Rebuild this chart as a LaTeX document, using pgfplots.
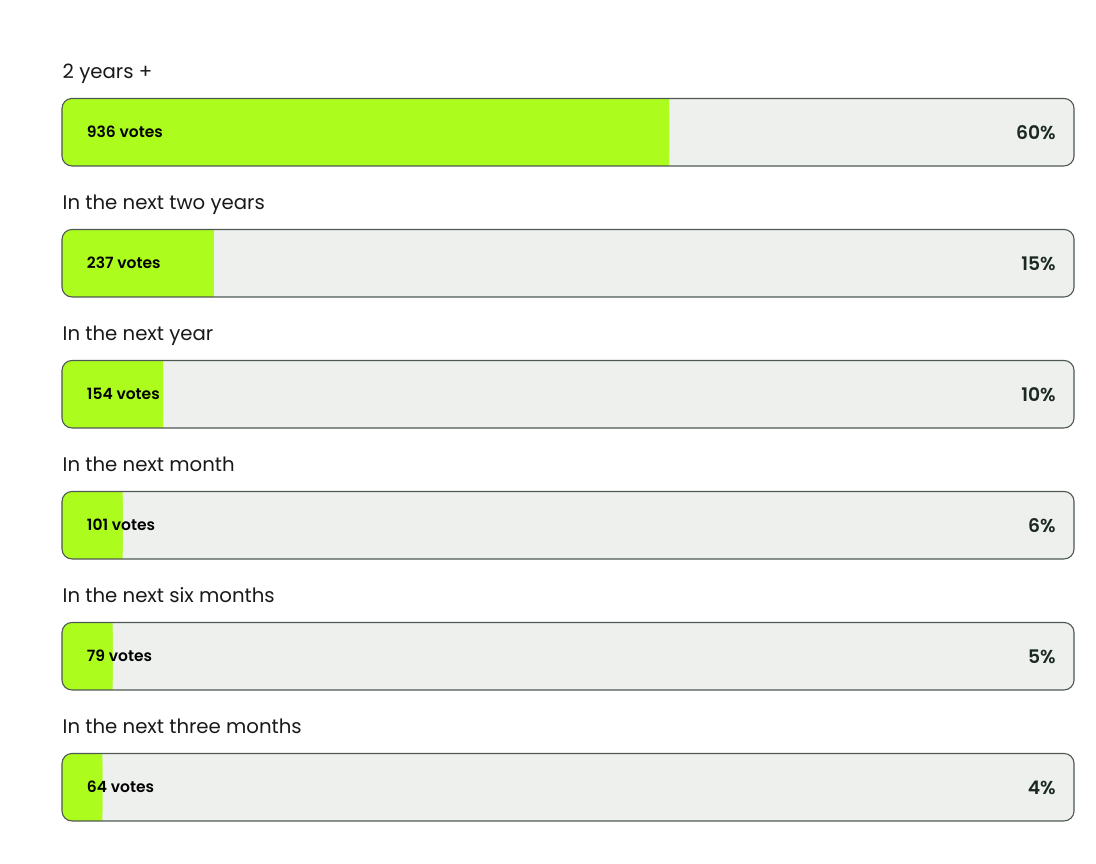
\documentclass[border=0pt]{standalone}
\usepackage{pgfplots}
\pgfplotsset{compat=1.18}
\usepackage{pgfplotstable}
\usepackage{fontspec}
\setmainfont{Poppins}
\newfontfamily\popsb{Poppins SemiBold}
\definecolor{lime}{RGB}{172,252,30}
\definecolor{bggray}{RGB}{237,240,237}
\definecolor{bordercol}{RGB}{78,88,82}
\definecolor{pcttext}{RGB}{28,40,34}
\definecolor{labtext}{RGB}{25,25,25}

\pgfplotstableread[col sep=comma]{
row,pct,votes,label,full,off
0,60,936,2 years +,100,2
1,15,237,In the next two years,100,2
2,10,154,In the next year,100,2
3,6,101,In the next month,100,2
4,5,79,In the next six months,100,2
5,4,64,In the next three months,100,2
}\polldata

\pgfplotsset{myax/.style={
  scale only axis, width=1096bp, height=863bp,
  xmin=-6.126, xmax=102.17,
  ymin=-1.0092, ymax=5.5786,
  y dir=reverse, hide axis, clip=false,
}}

\begin{document}
\begin{tikzpicture}
% layer 1: backgrounds and rounded green bars
\begin{axis}[myax]
\path (rel axis cs:0,0) rectangle (rel axis cs:1,1);
\addplot[xbar, bar shift=0pt, bar width=67.5bp, fill=bggray, draw=none, rounded corners=10bp]
  table[x=full, y=row] {\polldata};
\addplot[xbar, bar shift=0pt, bar width=67.5bp, fill=lime, draw=none, rounded corners=10bp]
  table[x=pct, y=row] {\polldata};
\end{axis}
% layer 2: square right end of green bars
\begin{axis}[myax, xbar stacked, bar width=67.5bp]
\addplot[draw=none, fill=none] table[x=off, y=row] {\polldata};
\addplot[fill=lime, draw=none] table[x expr=\thisrow{pct}-\thisrow{off}, y=row] {\polldata};
\end{axis}
% layer 3: outlines and texts
\begin{axis}[myax]
\addplot[xbar, bar shift=0pt, bar width=67.5bp, fill=none, draw=bordercol, line width=1.1bp, rounded corners=10bp]
  table[x=full, y=row] {\polldata};
\addplot[only marks, mark=*, mark size=0pt, mark options={draw=none, fill=none},
  nodes near coords={\pgfplotspointmeta}, point meta=explicit symbolic,
  nodes near coords style={anchor=base west, inner sep=0pt, text=labtext,
    font=\fontsize{19.7bp}{24bp}\selectfont}]
  table[x expr=0.05, y expr=\thisrow{row}-0.411, meta=label] {\polldata};
\addplot[only marks, mark=*, mark size=0pt, mark options={draw=none, fill=none},
  nodes near coords={\pgfplotspointmeta\ votes}, point meta=explicit symbolic,
  nodes near coords style={anchor=base west, inner sep=0pt, text=black,
    font=\popsb\fontsize{15.5bp}{19bp}\selectfont}]
  table[x expr=2.45, y expr=\thisrow{row}+0.042, meta=votes] {\polldata};
\addplot[only marks, mark=*, mark size=0pt, mark options={draw=none, fill=none},
  nodes near coords={\pgfplotspointmeta\%}, point meta=explicit symbolic,
  nodes near coords style={anchor=base east, inner sep=0pt, text=pcttext,
    font=\popsb\fontsize{18.7bp}{23bp}\selectfont}]
  table[x expr=98.2, y expr=\thisrow{row}+0.052, meta=pct] {\polldata};
\end{axis}
\end{tikzpicture}
\end{document}
